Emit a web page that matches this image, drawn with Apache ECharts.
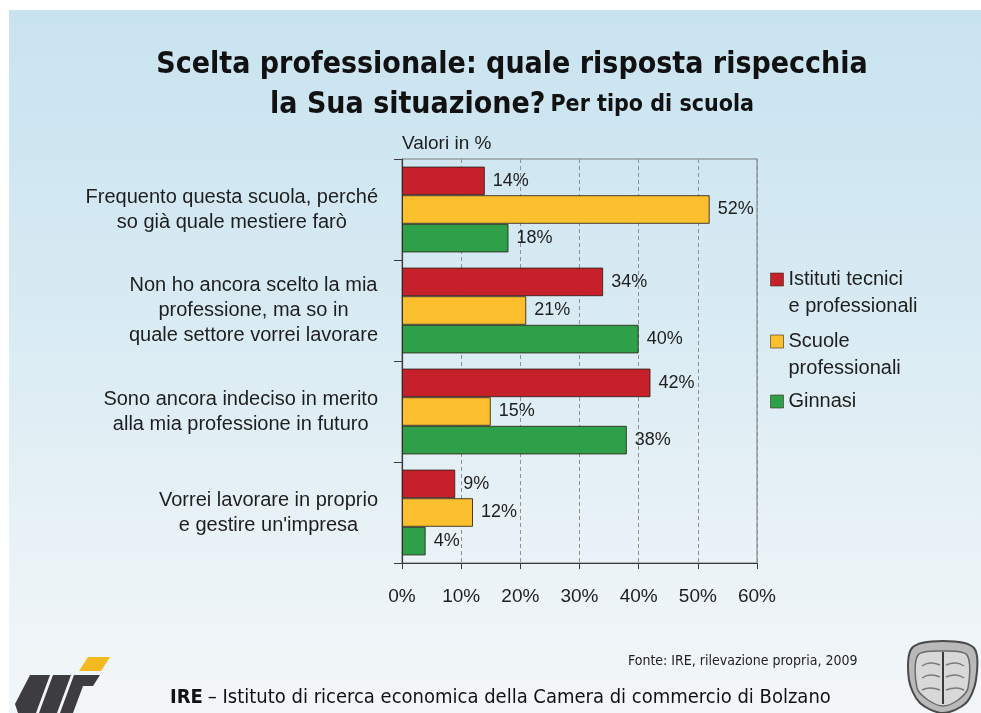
<!DOCTYPE html>
<html>
<head>
<meta charset="utf-8">
<title>Scelta professionale</title>
<script src="https://cdn.jsdelivr.net/npm/echarts@6/dist/echarts.min.js"></script>
<style>
  html, body { margin: 0; padding: 0; background: #ffffff; }
  #chart { width: 981px; height: 713px; }
</style>
</head>
<body>
<div id="chart"></div>
<script>
// Survey answers, share of pupils (%) per school type
const categories = [
  'Frequento questa scuola, perché\nso già quale mestiere farò',
  'Non ho ancora scelto la mia\nprofessione, ma so in\nquale settore vorrei lavorare',
  'Sono ancora indeciso in merito\nalla mia professione in futuro',
  "Vorrei lavorare in proprio\ne gestire un'impresa"
];
const seriesNames = [
  'Istituti tecnici\ne professionali',
  'Scuole\nprofessionali',
  'Ginnasi'
];
const istitutiTecnici = [14, 34, 42, 9];
const scuoleProfessionali = [52, 21, 15, 12];
const ginnasi = [18, 40, 38, 4];
const xTicks = [0, 10, 20, 30, 40, 50, 60];

const colors = ['#c6202b', '#fcc02e', '#2fa04a'];
const narrow = "'Liberation Sans Narrow', 'DejaVu Sans Condensed', Arial, sans-serif";
const sans = "'Liberation Sans', Arial, sans-serif";

const chart = echarts.init(document.getElementById('chart'), null, { renderer: 'canvas' });

function bar(name, data, color) {
  return {
    name: name,
    type: 'bar',
    data: data,
    barGap: '0%',
    barCategoryGap: '15%',
    itemStyle: { color: color, borderColor: 'rgba(45,35,25,0.85)', borderWidth: 1 },
    label: {
      show: true,
      position: 'right',
      distance: 8,
      formatter: '{c}%',
      fontFamily: sans,
      fontSize: 18,
      color: '#1e1e1e'
    }
  };
}

function legendAt(name, top) {
  return {
    data: [name],
    left: 770,
    top: top,
    padding: 0,
    orient: 'vertical',
    icon: 'rect',
    itemWidth: 13,
    itemHeight: 13,
    selectedMode: false,
    itemStyle: { borderColor: 'rgba(60,40,20,0.6)', borderWidth: 1 },
    formatter: function (n) { return n.indexOf('\n') >= 0 ? ' \n' + n : n; },
    textStyle: { fontFamily: sans, fontSize: 20, lineHeight: 27, color: '#1e1e1e' }
  };
}

const option = {
  backgroundColor: '#ffffff',
  animation: false,
  title: [
    {
      text: '{a|Scelta professionale: quale risposta rispecchia}\n{a|la Sua situazione?} {b|Per tipo di scuola}',
      left: 507,
      top: 40,
      textAlign: 'center',
      textStyle: {
        rich: {
          a: { fontFamily: narrow, fontWeight: 'bold', fontSize: 30, lineHeight: 40, color: '#111111' },
          b: { fontFamily: narrow, fontWeight: 'bold', fontSize: 23, lineHeight: 40, color: '#111111' }
        }
      }
    },
    {
      text: 'Fonte: IRE, rilevazione propria, 2009',
      left: 623,
      top: 649,
      textStyle: { fontFamily: narrow, fontWeight: 'normal', fontSize: 14, color: '#222222' }
    },
    {
      text: '{b|IRE} {n|– Istituto di ricerca economica della Camera di commercio di Bolzano}',
      left: 165,
      top: 683,
      textStyle: {
        rich: {
          b: { fontFamily: narrow, fontWeight: 'bold', fontSize: 20, color: '#111111' },
          n: { fontFamily: narrow, fontWeight: 'normal', fontSize: 20, color: '#111111' }
        }
      }
    }
  ],
  legend: [
    legendAt(seriesNames[0], 239),
    legendAt(seriesNames[1], 301),
    legendAt(seriesNames[2], 388)
  ],
  grid: {
    left: 402,
    right: 224,
    top: 159,
    bottom: 150,
    show: true,
    borderColor: '#7a7a7a',
    borderWidth: 1,
    backgroundColor: 'transparent'
  },
  xAxis: {
    type: 'value',
    min: xTicks[0],
    max: xTicks[xTicks.length - 1],
    interval: 10,
    axisLine: { show: true, lineStyle: { color: '#3a3a3a', width: 1.2 } },
    axisTick: { show: true, length: 6, lineStyle: { color: '#3a3a3a' } },
    splitLine: { show: true, lineStyle: { color: '#8f8f95', type: [4, 3], width: 1 } },
    axisLabel: {
      margin: 24,
      formatter: '{value}%',
      fontFamily: sans,
      fontSize: 19,
      color: '#1e1e1e'
    }
  },
  yAxis: {
    type: 'category',
    data: categories,
    inverse: true,
    name: 'Valori in %',
    nameLocation: 'start',
    nameGap: 6,
    nameTextStyle: { align: 'left', verticalAlign: 'bottom', fontFamily: sans, fontSize: 19, color: '#1e1e1e' },
    axisLine: { show: true, lineStyle: { color: '#3a3a3a', width: 1.2 } },
    axisTick: { show: true, length: 8, lineStyle: { color: '#3a3a3a' } },
    axisLabel: {
      margin: 24,
      formatter: function (v) {
        return v.split('\n').map(function (l) { return '{c|' + l + '}'; }).join('\n');
      },
      rich: {
        c: { align: 'center', fontFamily: sans, fontSize: 20, lineHeight: 25, color: '#1e1e1e' }
      }
    }
  },
  series: [
    bar(seriesNames[0], istitutiTecnici, colors[0]),
    bar(seriesNames[1], scuoleProfessionali, colors[1]),
    bar(seriesNames[2], ginnasi, colors[2])
  ],
  graphic: [
    {
      type: 'rect',
      z: -100,
      silent: true,
      shape: { x: 9, y: 10, width: 972, height: 703 },
      style: {
        fill: new echarts.graphic.LinearGradient(0, 0, 0, 1, [
          { offset: 0, color: '#c8e3f0' },
          { offset: 0.45, color: '#d9ebf3' },
          { offset: 0.8, color: '#ebf3f7' },
          { offset: 1, color: '#f3f6f8' }
        ])
      }
    },
    // IRE logo
    {
      type: 'group',
      silent: true,
      children: [
        { type: 'polygon', shape: { points: [[88, 657], [110, 657], [101, 671], [79, 671]] }, style: { fill: '#f3b91e' } },
        { type: 'polygon', shape: { points: [[30, 675], [50, 675], [36, 713], [18, 713], [15, 704]] }, style: { fill: '#3d3d3f' } },
        { type: 'polygon', shape: { points: [[53, 675], [71, 675], [57, 713], [39, 713]] }, style: { fill: '#3d3d3f' } },
        { type: 'polygon', shape: { points: [[74, 675], [100, 675], [93, 686], [83, 686], [73, 713], [60, 713]] }, style: { fill: '#3d3d3f' } }
      ]
    },
    // Chamber coat of arms
    {
      type: 'group',
      silent: true,
      children: [
        { type: 'polygon', shape: { smooth: 0.3, points: [[912, 648], [943, 641], [974, 648], [976, 680], [966, 703], [943, 713], [920, 703], [909, 680]] }, style: { fill: '#b9b9b9', stroke: '#4a4a4a', lineWidth: 2 } },
        { type: 'polygon', shape: { smooth: 0.3, points: [[918, 655], [943, 651], [967, 655], [968, 688], [958, 700], [943, 706], [928, 700], [917, 688]] }, style: { fill: '#d8d8d8', stroke: '#6a6a6a', lineWidth: 1.5 } },
        { type: 'line', shape: { x1: 943, y1: 652, x2: 943, y2: 704 }, style: { stroke: '#3a3a3a', lineWidth: 2 } },
        { type: 'polyline', shape: { smooth: 0.5, points: [[922, 666], [930, 663], [940, 665]] }, style: { stroke: '#7a7a7a', lineWidth: 1.5 } },
        { type: 'polyline', shape: { smooth: 0.5, points: [[946, 665], [956, 663], [964, 666]] }, style: { stroke: '#7a7a7a', lineWidth: 1.5 } },
        { type: 'polyline', shape: { smooth: 0.5, points: [[922, 678], [930, 675], [940, 677]] }, style: { stroke: '#7a7a7a', lineWidth: 1.5 } },
        { type: 'polyline', shape: { smooth: 0.5, points: [[946, 677], [956, 675], [964, 678]] }, style: { stroke: '#7a7a7a', lineWidth: 1.5 } },
        { type: 'polyline', shape: { smooth: 0.5, points: [[922, 690], [930, 688], [940, 690]] }, style: { stroke: '#7a7a7a', lineWidth: 1.5 } },
        { type: 'polyline', shape: { smooth: 0.5, points: [[946, 690], [956, 688], [964, 690]] }, style: { stroke: '#7a7a7a', lineWidth: 1.5 } }
      ]
    }
  ]
};

chart.setOption(option);
</script>
</body>
</html>
